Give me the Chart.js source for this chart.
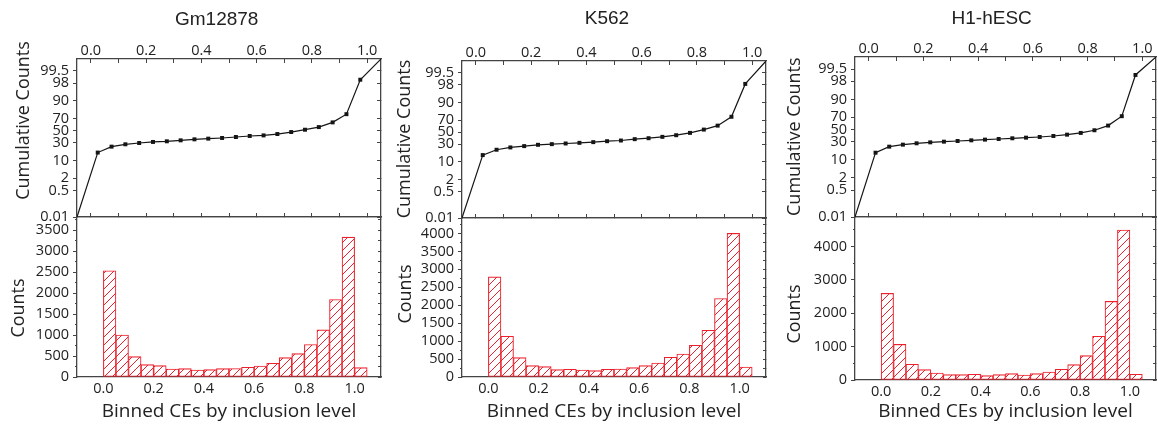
<!DOCTYPE html>
<html>
<head>
<meta charset="utf-8">
<script src="https://cdn.jsdelivr.net/npm/chart.js@4"></script>
<style>
  body { margin: 0; background: #fff; }
  #page { position: relative; width: 1158px; height: 425px; overflow: hidden; background: #fff; }
  canvas { position: absolute; }
</style>
</head>
<body>
<div id="page"></div>
<script>
// bin centres (histogram) and points of the cumulative curve
const bins = [0.025, 0.075, 0.125, 0.175, 0.225, 0.275, 0.325, 0.375, 0.425, 0.475, 0.525,
  0.575, 0.625, 0.675, 0.725, 0.775, 0.825, 0.875, 0.925, 0.975, 1.025];
const cumX = [-0.05, 0.025, 0.075, 0.125, 0.175, 0.225, 0.275, 0.325, 0.375, 0.425, 0.475,
  0.525, 0.575, 0.625, 0.675, 0.725, 0.775, 0.825, 0.875, 0.925, 0.975, 1.05];

const gmCounts = [2530, 1000, 485, 295, 270, 190, 198, 167, 175, 198, 200, 230, 262, 326, 461, 557, 772, 1122, 1846, 3330, 223];
const k562Counts = [2790, 1135, 540, 316, 288, 205, 214, 195, 177, 214, 223, 260, 316, 391, 549, 642, 884, 1302, 2186, 4000, 279];
const h1Counts = [2594, 1067, 469, 309, 209, 160, 160, 170, 130, 160, 190, 150, 190, 239, 319, 459, 728, 1307, 2354, 4489, 170];

const gmCum = [0.01, 17.3, 24.6, 27.9, 29.8, 31.4, 32.4, 33.9, 35.5, 36.6, 37.7, 39.3, 41.0, 42.0, 44.3, 47.7, 51.7, 56.2, 64.0, 76.2, 98.6, 99.9];
const k562Cum = [0.01, 16.1, 22.4, 25.5, 27.4, 29.3, 30.3, 31.3, 32.3, 33.4, 34.9, 36.0, 38.2, 39.8, 42.1, 44.9, 48.9, 54.6, 61.3, 74.9, 98.2, 99.9];
const h1Cum = [0.01, 16.3, 23.4, 26.1, 28.0, 29.4, 30.4, 31.4, 32.4, 33.5, 34.5, 35.6, 36.6, 37.7, 39.3, 41.5, 44.4, 48.9, 56.8, 71.6, 99.0, 99.9];

// tick values
const xTicks = [0, 0.1, 0.2, 0.3, 0.4, 0.5, 0.6, 0.7, 0.8, 0.9, 1.0];
const probTicks = [0.01, 0.5, 2, 10, 30, 50, 70, 90, 98, 99.5];
const gmCountTicks = [0, 250, 500, 750, 1000, 1250, 1500, 1750, 2000, 2250, 2500, 2750, 3000, 3250, 3500, 3750];
const k562CountTicks = [0, 250, 500, 750, 1000, 1250, 1500, 1750, 2000, 2250, 2500, 2750, 3000, 3250, 3500, 3750, 4000, 4250];
const h1CountTicks = [0, 500, 1000, 1500, 2000, 2500, 3000, 3500, 4000, 4500];

const FONT = "'Open Sans', 'DejaVu Sans', sans-serif";
const TEXT = '#222';
const AXIS = '#444';
const RED = 'rgb(236, 32, 44)';

const panels = [
  { name: 'Gm12878', cum: gmCum, counts: gmCounts, countTicks: gmCountTicks, labelStep: 500, countMax: 3810,
    box: { wrapL: 0, wrapR: 388, left: 77, right: 381, top: 59, mid: 217, bottom: 377 },
    txt: { titleX: 216.7, titleY: 20, cumX: 23.5, cumY: 120.5, cntX: 18.7, cntY: 308 } },
  { name: 'K562', cum: k562Cum, counts: k562Counts, countTicks: k562CountTicks, labelStep: 500, countMax: 4430,
    box: { wrapL: 388, wrapR: 772, left: 462, right: 766, top: 61, mid: 218, bottom: 377 },
    txt: { titleX: 607, titleY: 19, cumX: 405, cumY: 139, cntX: 405.6, cntY: 294 } },
  { name: 'H1-hESC', cum: h1Cum, counts: h1Counts, countTicks: h1CountTicks, labelStep: 1000, countMax: 4880,
    box: { wrapL: 774, wrapR: 1158, left: 855, right: 1156, top: 57, mid: 217, bottom: 380 },
    txt: { titleX: 991.7, titleY: 18.5, cumX: 794.5, cumY: 136.7, cntX: 794.5, cntY: 314 } }
];

// inverse normal CDF (Acklam)
function probit(p) {
  const a = [-39.69683028665376, 220.9460984245205, -275.9285104469687, 138.3577518672690, -30.66479806614716, 2.506628277459239];
  const b = [-54.47609879822406, 161.5858368580409, -155.6989798598866, 66.80131188771972, -13.28068155288572];
  const c = [-0.007784894002430293, -0.3223964580411365, -2.400758277161838, -2.549732539343734, 4.374664141464968, 2.938163982698783];
  const d = [0.007784695709041462, 0.3224671290700398, 2.445134137142996, 3.754408661907416];
  const pl = 0.02425;
  if (p < pl) {
    const q = Math.sqrt(-2 * Math.log(p));
    return (((((c[0] * q + c[1]) * q + c[2]) * q + c[3]) * q + c[4]) * q + c[5]) / ((((d[0] * q + d[1]) * q + d[2]) * q + d[3]) * q + 1);
  }
  if (p > 1 - pl) {
    const q = Math.sqrt(-2 * Math.log(1 - p));
    return -(((((c[0] * q + c[1]) * q + c[2]) * q + c[3]) * q + c[4]) * q + c[5]) / ((((d[0] * q + d[1]) * q + d[2]) * q + d[3]) * q + 1);
  }
  const q = p - 0.5, r = q * q;
  return (((((a[0] * r + a[1]) * r + a[2]) * r + a[3]) * r + a[4]) * r + a[5]) * q / (((((b[0] * r + b[1]) * r + b[2]) * r + b[3]) * r + b[4]) * r + 1);
}

// probability (normal quantile) axis, values in percent
class ProbabilityScale extends Chart.Scale {
  determineDataLimits() {
    this.min = this.options.min;
    this.max = this.options.max;
  }
  buildTicks() {
    return [];
  }
  getLabelForValue(value) {
    return String(value);
  }
  getPixelForValue(value) {
    const z0 = probit(this.min / 100), z1 = probit(this.max / 100);
    return this.getPixelForDecimal((probit(value / 100) - z0) / (z1 - z0));
  }
  getValueForPixel(pixel) {
    return null;
  }
}
ProbabilityScale.id = 'probability';
ProbabilityScale.defaults = {};
Chart.register(ProbabilityScale);

function hatch(color) {
  const c = document.createElement('canvas');
  c.width = c.height = 8;
  const g = c.getContext('2d');
  g.fillStyle = '#fff';
  g.fillRect(0, 0, 8, 8);
  g.strokeStyle = color;
  g.lineWidth = 1;
  g.beginPath();
  g.moveTo(0, 8); g.lineTo(8, 0);
  g.moveTo(-1, 1); g.lineTo(1, -1);
  g.moveTo(7, 9); g.lineTo(9, 7);
  g.stroke();
  return g.createPattern(c, 'repeat');
}

function textPlugin(items) {
  return {
    id: 'panelText',
    afterDraw(chart) {
      const ctx = chart.ctx;
      items.forEach(t => {
        ctx.save();
        ctx.translate(t.x, t.y);
        if (t.rotate) ctx.rotate(-Math.PI / 2);
        ctx.font = t.font;
        ctx.fillStyle = TEXT;
        ctx.textAlign = 'center';
        ctx.textBaseline = 'middle';
        ctx.fillText(t.text, 0, 0);
        ctx.restore();
      });
    }
  };
}

function makeCanvas(x, y, w, h) {
  const cv = document.createElement('canvas');
  cv.width = w; cv.height = h;
  cv.style.left = x + 'px'; cv.style.top = y + 'px';
  cv.style.width = w + 'px'; cv.style.height = h + 'px';
  document.getElementById('page').appendChild(cv);
  return cv;
}

// fixed axis size, and no extra room for labels sticking out at the ends
function fixSize(prop, size) {
  return s => {
    s[prop] = size;
    s.paddingTop = s.paddingBottom = s.paddingLeft = s.paddingRight = 0;
  };
}

function axis(extra) {
  const base = {
    border: { display: true, color: AXIS, width: 1.3 },
    grid: { drawOnChartArea: false, color: AXIS, tickColor: AXIS, tickWidth: 1, tickLength: 4 },
    ticks: { font: { family: FONT, size: 14.5 }, color: TEXT, autoSkip: false, maxRotation: 0, padding: 4 }
  };
  return {
    ...base, ...extra,
    border: { ...base.border, ...(extra.border || {}) },
    grid: { ...base.grid, ...(extra.grid || {}) },
    ticks: { ...base.ticks, ...(extra.ticks || {}) }
  };
}

const setTicks = vals => scale => { scale.ticks = vals.map(v => ({ value: v })); };
const xLabel = v => (Math.round(v * 10) % 2 === 0 ? v.toFixed(1) : '');
const minorDash = step => ctx => (ctx.tick && ctx.tick.value % step !== 0 ? [0, 2, 2, 100] : []);

panels.forEach(p => {
  const b = p.box;
  const w = b.wrapR - b.wrapL;

  // ---- upper plot: cumulative counts on a probability axis
  const topH = b.mid + 4;
  const cvTop = makeCanvas(b.wrapL, 0, w, topH);
  new Chart(cvTop, {
    type: 'line',
    data: {
      datasets: [{
        data: cumX.map((x, i) => ({ x: x, y: p.cum[i] })),
        borderColor: '#151515',
        borderWidth: 1.2,
        tension: 0,
        pointStyle: 'rect',
        pointRadius: ctx => (ctx.dataIndex === 0 || ctx.dataIndex === cumX.length - 1 ? 0 : 2.8),
        pointBackgroundColor: '#151515',
        pointBorderWidth: 0
      }]
    },
    options: {
      responsive: false, animation: false, events: [], devicePixelRatio: 1,
      layout: { padding: 0 },
      plugins: { legend: { display: false }, tooltip: { enabled: false } },
      scales: {
        x: axis({ type: 'linear', position: 'top', min: -0.05, max: 1.05,
          afterBuildTicks: setTicks(xTicks),
          ticks: { callback: xLabel, padding: 3 },
          grid: { tickLength: -4 },
          afterFit: fixSize('height', b.top) }),
        xb: axis({ type: 'linear', position: 'bottom', min: -0.05, max: 1.05,
          afterBuildTicks: setTicks(xTicks),
          ticks: { display: false },
          grid: { tickLength: -4 },
          afterFit: fixSize('height', 4) }),
        y: axis({ type: 'probability', position: 'left', min: 0.01, max: 99.9,
          afterBuildTicks: setTicks(probTicks),
          afterFit: fixSize('width', b.left - b.wrapL) }),
        yr: axis({ type: 'probability', position: 'right', min: 0.01, max: 99.9,
          afterBuildTicks: setTicks(probTicks),
          ticks: { display: false },
          grid: { tickLength: -4 },
          afterFit: fixSize('width', b.wrapR - b.right) })
      }
    },
    plugins: [textPlugin([
      { text: p.name, x: p.txt.titleX - b.wrapL, y: p.txt.titleY, font: "19px 'Liberation Sans', Arial, sans-serif" },
      { text: 'Cumulative Counts', x: p.txt.cumX - b.wrapL, y: p.txt.cumY, rotate: true, font: '18px ' + FONT }
    ])]
  });

  // ---- lower plot: histogram of binned CEs
  const botH = 425 - b.mid;
  const cvBot = makeCanvas(b.wrapL, b.mid, w, botH);
  new Chart(cvBot, {
    type: 'bar',
    data: {
      datasets: [{
        data: bins.map((x, i) => ({ x: x, y: p.counts[i] })),
        backgroundColor: hatch(RED),
        borderColor: RED,
        borderWidth: 1.1,
        borderSkipped: false,
        barPercentage: 1,
        categoryPercentage: 1
      }]
    },
    options: {
      responsive: false, animation: false, events: [], devicePixelRatio: 1,
      layout: { padding: 0 },
      plugins: { legend: { display: false }, tooltip: { enabled: false } },
      scales: {
        x: axis({ type: 'linear', position: 'bottom', min: -0.05, max: 1.05,
          afterBuildTicks: setTicks(xTicks),
          ticks: { callback: xLabel, padding: 3 },
          grid: { drawTicks: false },
          title: { display: true, text: 'Binned CEs by inclusion level', color: TEXT,
            font: { family: FONT, size: 19 }, padding: { top: 0, bottom: 2 } },
          afterFit: fixSize('height', 425 - b.bottom) }),
        xt: axis({ type: 'linear', position: 'top', min: -0.05, max: 1.05,
          ticks: { display: false },
          grid: { drawTicks: false },
          afterFit: fixSize('height', 0) }),
        y: axis({ type: 'linear', position: 'left', min: 0, max: p.countMax,
          afterBuildTicks: setTicks(p.countTicks),
          ticks: { callback: v => (v % p.labelStep === 0 ? String(v) : '') },
          grid: { tickBorderDash: minorDash(p.labelStep) },
          afterFit: fixSize('width', b.left - b.wrapL) }),
        yr: axis({ type: 'linear', position: 'right', min: 0, max: p.countMax,
          afterBuildTicks: setTicks(p.countTicks),
          ticks: { display: false },
          grid: { tickLength: -3 },
          afterFit: fixSize('width', b.wrapR - b.right) })
      }
    },
    plugins: [textPlugin([
      { text: 'Counts', x: p.txt.cntX - b.wrapL, y: p.txt.cntY - b.mid, rotate: true, font: '18px ' + FONT }
    ])]
  });
});
</script>
</body>
</html>
